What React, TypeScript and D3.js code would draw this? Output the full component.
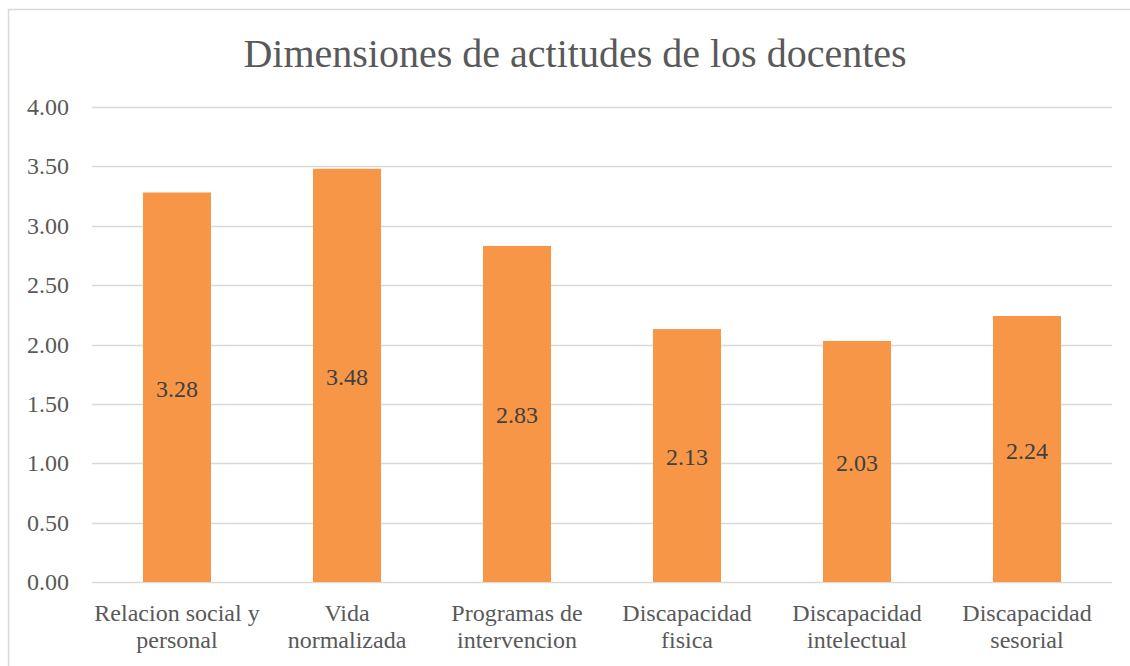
import { useEffect, useRef } from 'react';
import * as d3 from 'd3';

const categories = [
  ['Relacion social y', 'personal'],
  ['Vida', 'normalizada'],
  ['Programas de', 'intervencion'],
  ['Discapacidad', 'fisica'],
  ['Discapacidad', 'intelectual'],
  ['Discapacidad', 'sesorial'],
];
const values = [3.28, 3.48, 2.83, 2.13, 2.03, 2.24];
const yTicks = [0, 0.5, 1, 1.5, 2, 2.5, 3, 3.5, 4];
const title = 'Dimensiones de actitudes de los docentes';

const FONT = '"Liberation Serif", "DejaVu Serif", serif';

export default function App() {
  const svgRef = useRef<SVGSVGElement | null>(null);

  useEffect(() => {
    if (!svgRef.current) return;
    const svg = d3.select(svgRef.current);
    svg.selectAll('*').remove();

    // chart frame (runs off the right and bottom edges)
    svg
      .append('rect')
      .attr('x', 8.5)
      .attr('y', 9.5)
      .attr('width', 1140)
      .attr('height', 680)
      .attr('fill', 'white')
      .attr('stroke', '#d9d9d9')
      .attr('stroke-width', 1.5);

    const x = d3
      .scaleBand<number>()
      .domain(d3.range(values.length))
      .range([92, 1112])
      .paddingInner(0.6)
      .paddingOuter(0.3);
    const y = d3.scaleLinear().domain([0, 4]).range([582, 107]);

    // title
    svg
      .append('text')
      .attr('x', 575)
      .attr('y', 67)
      .attr('text-anchor', 'middle')
      .attr('font-family', FONT)
      .attr('font-size', 40)
      .attr('fill', '#595959')
      .text(title);

    // grid
    svg
      .append('g')
      .selectAll('line')
      .data(yTicks)
      .enter()
      .append('line')
      .attr('x1', 92)
      .attr('x2', 1112)
      .attr('y1', (d) => Math.round(y(d)) + 0.5)
      .attr('y2', (d) => Math.round(y(d)) + 0.5)
      .attr('stroke', '#d9d9d9')
      .attr('stroke-width', 1.5);

    // y tick labels
    svg
      .append('g')
      .selectAll('text')
      .data(yTicks)
      .enter()
      .append('text')
      .attr('x', 69)
      .attr('y', (d) => y(d) + 8)
      .attr('text-anchor', 'end')
      .attr('font-family', FONT)
      .attr('font-size', 24)
      .attr('fill', '#595959')
      .text((d) => d.toFixed(2));

    // bars
    svg
      .append('g')
      .selectAll('rect')
      .data(values)
      .enter()
      .append('rect')
      .attr('x', (_, i) => x(i)!)
      .attr('width', x.bandwidth())
      .attr('y', (d) => y(d))
      .attr('height', (d) => y(0) - y(d))
      .attr('fill', '#f79646');

    // data labels, centred in each bar
    svg
      .append('g')
      .selectAll('text')
      .data(values)
      .enter()
      .append('text')
      .attr('x', (_, i) => x(i)! + x.bandwidth() / 2)
      .attr('y', (d) => (y(d) + y(0)) / 2 + 9.5)
      .attr('text-anchor', 'middle')
      .attr('font-family', FONT)
      .attr('font-size', 24)
      .attr('fill', '#404040')
      .text((d) => d.toFixed(2));

    // category labels (two lines each)
    const cat = svg
      .append('g')
      .selectAll('text')
      .data(categories)
      .enter()
      .append('text')
      .attr('text-anchor', 'middle')
      .attr('font-family', FONT)
      .attr('font-size', 24)
      .attr('fill', '#595959');
    cat.each(function (lines, i) {
      const t = d3.select(this);
      lines.forEach((line, j) => {
        t.append('tspan')
          .attr('x', x(i)! + x.bandwidth() / 2)
          .attr('y', 621 + j * 27)
          .text(line);
      });
    });
  }, []);

  return (
    <svg
      ref={svgRef}
      width={1130}
      height={666}
      style={{ position: 'absolute', left: 0, top: 0, display: 'block' }}
    />
  );
}
